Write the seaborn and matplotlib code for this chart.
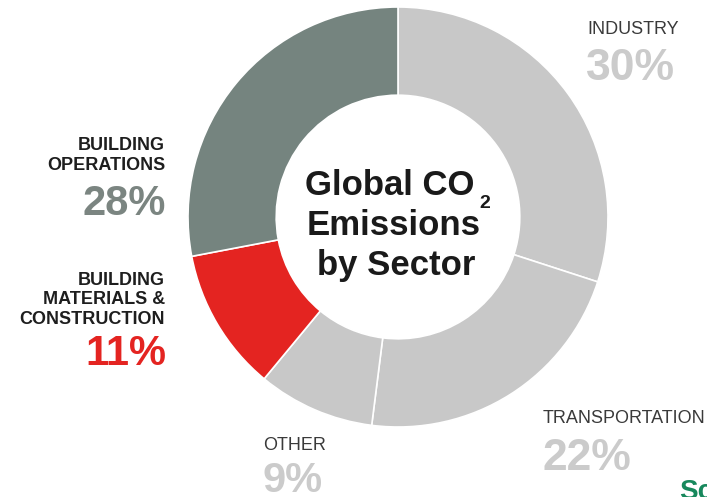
import matplotlib
matplotlib.use("Agg")
import matplotlib.pyplot as plt
import seaborn as sns

# Sector shares of global CO2 emissions, clockwise from 12 o'clock
sectors = ["INDUSTRY", "TRANSPORTATION", "OTHER",
           "BUILDING\nMATERIALS &\nCONSTRUCTION", "BUILDING\nOPERATIONS"]
shares = [30, 22, 9, 11, 28]
pct_labels = ["30%", "22%", "9%", "11%", "28%"]
slice_colors = ["#c8c8c8", "#c8c8c8", "#c8c8c8", "#e42421", "#75847f"]
pct_colors = ["#cbcbcb", "#cbcbcb", "#cbcbcb", "#e42421", "#7b8581"]

sns.set_theme(style="white")
plt.rcParams["font.family"] = ["Liberation Sans", "DejaVu Sans"]

W, H = 707, 497
fig = plt.figure(figsize=(W / 100, H / 100), dpi=100)
ax = fig.add_axes([0, 0, 1, 1])

cx, cy, R = 398, H - 217, 210
ax.pie(shares, colors=slice_colors, startangle=90, counterclock=False,
       center=(cx, cy), radius=R,
       wedgeprops=dict(width=R * 0.42, edgecolor="white", linewidth=1.2))

ax.set_xlim(0, W)
ax.set_ylim(0, H)
ax.set_aspect("equal")
ax.axis("off")

name_kw = dict(fontsize=13, va="baseline", linespacing=1.2)
pct_kw = dict(fontsize=32, fontweight="bold", va="baseline")

# Right-hand labels (regular weight, left aligned)
ax.text(587, H - 34, sectors[0], color="#3a3a3a", ha="left", **name_kw)
ax.text(586, H - 80, pct_labels[0], color=pct_colors[0], ha="left", **pct_kw)

ax.text(543, H - 423, sectors[1], color="#3a3a3a", ha="left", **name_kw)
ax.text(542, H - 470, pct_labels[1], color=pct_colors[1], ha="left", **pct_kw)

ax.text(263, H - 450, sectors[2], color="#3a3a3a", ha="left", **name_kw)
ax.text(263, H - 492, pct_labels[2], color=pct_colors[2], ha="left",
        fontsize=30, fontweight="bold", va="baseline")

# Left-hand labels (bold, right aligned)
ax.text(165, H - 324, sectors[3], color="#1e1e1e", ha="right",
        fontweight="bold", **name_kw)
ax.text(166, H - 365, pct_labels[3], color=pct_colors[3], ha="right",
        fontsize=30, fontweight="bold", va="baseline")

ax.text(165, H - 170, sectors[4], color="#1e1e1e", ha="right",
        fontweight="bold", **name_kw)
ax.text(166, H - 215, pct_labels[4], color=pct_colors[4], ha="right",
        fontsize=30, fontweight="bold", va="baseline")

# Centre title
title_kw = dict(fontsize=25, fontweight="bold", color="#1a1a1a",
                ha="center", va="baseline")
ax.text(390, H - 195, "Global CO", **title_kw)
ax.text(394, H - 235, "Emissions", **title_kw)
ax.text(396, H - 275, "by Sector", **title_kw)
ax.text(479, H - 208, "2", fontsize=14, fontweight="bold",
        color="#1a1a1a", ha="left", va="baseline")

# Corner logo fragment
ax.text(679, H - 499, "Sc", fontsize=20, fontweight="bold", color="#17885c",
        ha="left", va="baseline", clip_on=False)

fig.savefig("out.png", dpi=100, facecolor="white")
